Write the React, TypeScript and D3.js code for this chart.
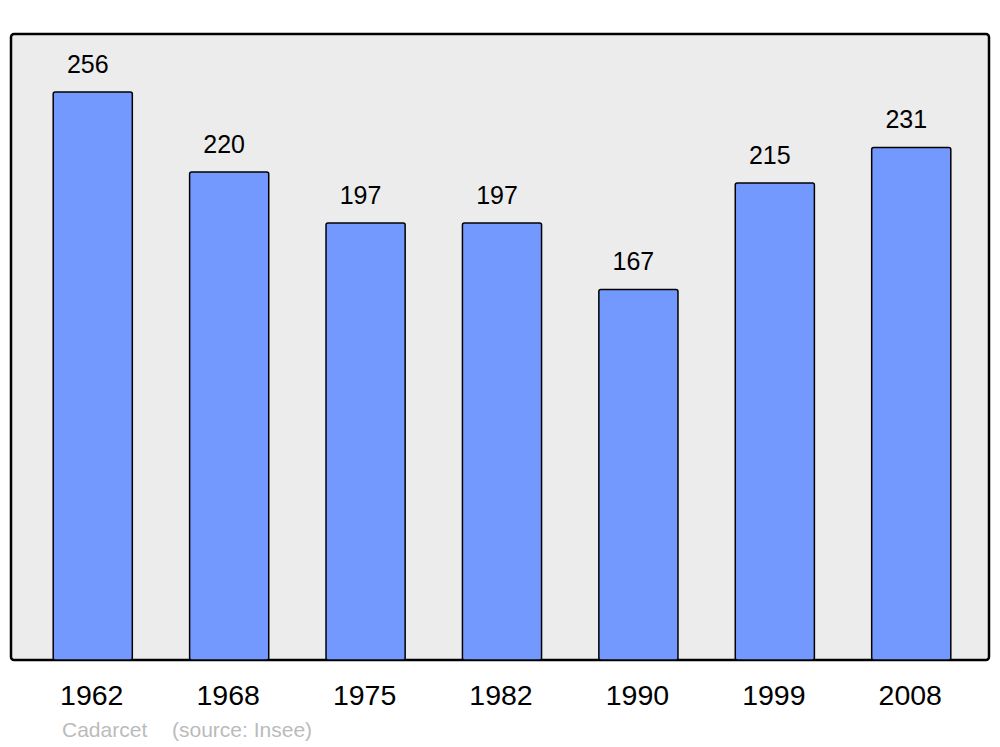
import React from "react";
import * as d3 from "d3";

const years = ["1962", "1968", "1975", "1982", "1990", "1999", "2008"];
const population = [256, 220, 197, 197, 167, 215, 231];
const placeName = "Cadarcet";
const sourceText = "(source: Insee)";

export default function App() {
  const W = 1000, H = 747;
  const frame = { x: 11, y: 34, w: 978, h: 626 };
  const x = d3.scaleBand<string>().domain(years).range([15, 989]).paddingInner(0.42).paddingOuter(0.28);
  const y = d3.scaleLinear().domain([0, 256]).range([660, 92]);
  const font = "'Liberation Sans', Arial, sans-serif";
  return (
    <svg width={W} height={H} style={{ position: "absolute", left: 0, top: 0 }} fontFamily={font}>
      <rect x={0} y={0} width={W} height={H} fill="#fff" />
      <rect x={frame.x} y={frame.y} width={frame.w} height={frame.h} rx={3} fill="#ececec" stroke="#000" strokeWidth={2.5} />
      {years.map((yr, i) => {
        const bx = x(yr)!;
        const top = y(population[i]);
        return (
          <g key={yr}>
            <rect x={bx} y={top} width={x.bandwidth()} height={y(0) - top} rx={2} fill="#7399ff" stroke="#000" strokeWidth={1.5} />
            <text x={bx + x.bandwidth() / 2 - 5} y={top - 19} textAnchor="middle" fontSize={25} fill="#000">{population[i]}</text>
            <text x={bx + x.bandwidth() / 2 - 1} y={705} textAnchor="middle" fontSize={28.5} fill="#000">{yr}</text>
          </g>
        );
      })}
      <text x={62} y={737} fontSize={21} fill="#bbb">{placeName}</text>
      <text x={172} y={737} fontSize={21} fill="#bbb">{sourceText}</text>
    </svg>
  );
}
